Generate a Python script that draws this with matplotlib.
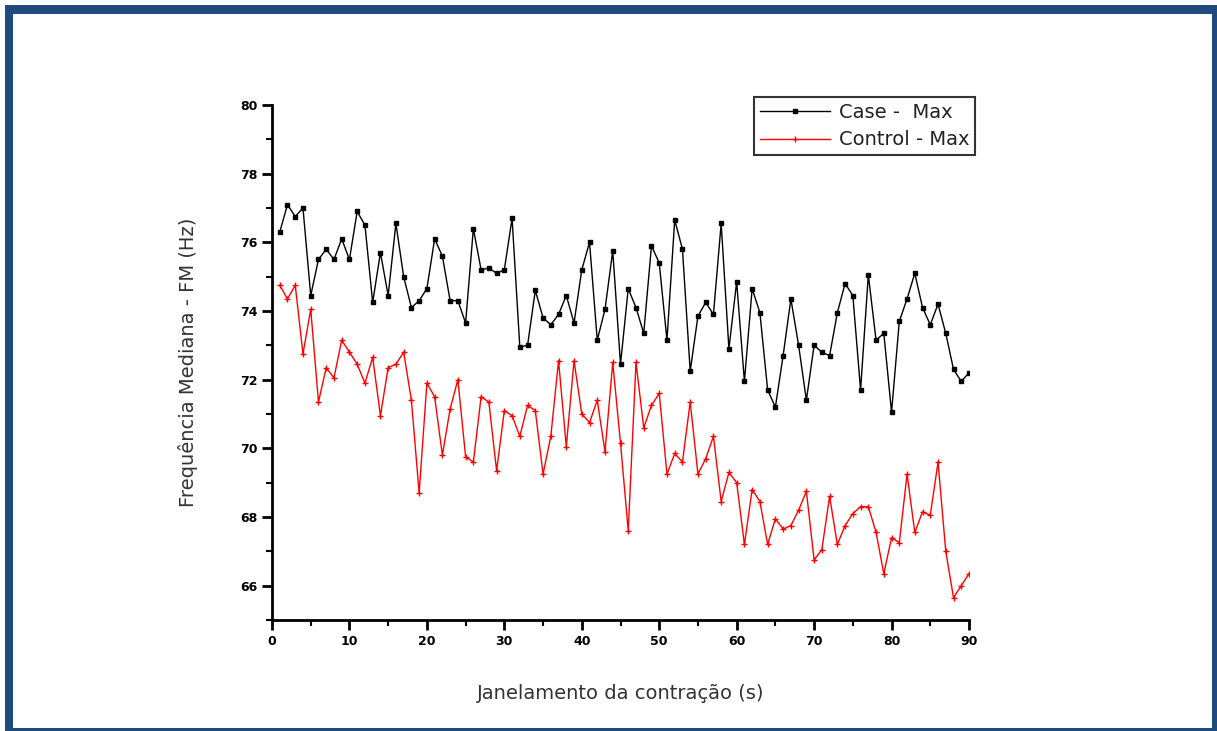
import numpy as np
import matplotlib
matplotlib.use("Agg")
import matplotlib.pyplot as plt
from matplotlib.patches import Rectangle
from matplotlib.ticker import MultipleLocator

# window index (s)
x = np.arange(1, 91)

case_max = [
    76.3, 77.1, 76.75, 77.0, 74.45, 75.5, 75.8, 75.5, 76.1, 75.5,
    76.9, 76.5, 74.25, 75.7, 74.45, 76.55, 75.0, 74.1, 74.3, 74.65,
    76.1, 75.6, 74.3, 74.3, 73.65, 76.4, 75.2, 75.25, 75.1, 75.2,
    76.7, 72.95, 73.0, 74.6, 73.8, 73.6, 73.9, 74.45, 73.65, 75.2,
    76.0, 73.15, 74.05, 75.75, 72.45, 74.65, 74.1, 73.35, 75.9, 75.4,
    73.15, 76.65, 75.8, 72.25, 73.85, 74.25, 73.9, 76.55, 72.9, 74.85,
    71.95, 74.65, 73.95, 71.7, 71.2, 72.7, 74.35, 73.0, 71.4, 73.0,
    72.8, 72.7, 73.95, 74.8, 74.45, 71.7, 75.05, 73.15, 73.35, 71.05,
    73.7, 74.35, 75.1, 74.1, 73.6, 74.2, 73.35, 72.3, 71.95, 72.2,
]

control_max = [
    74.75, 74.35, 74.75, 72.75, 74.05, 71.35, 72.35, 72.05, 73.15, 72.8,
    72.45, 71.9, 72.65, 70.95, 72.35, 72.45, 72.8, 71.4, 68.7, 71.9,
    71.5, 69.8, 71.15, 72.0, 69.75, 69.6, 71.5, 71.35, 69.35, 71.1,
    70.95, 70.35, 71.25, 71.1, 69.25, 70.35, 72.55, 70.05, 72.55, 71.0,
    70.75, 71.4, 69.9, 72.5, 70.15, 67.6, 72.5, 70.6, 71.25, 71.6,
    69.25, 69.85, 69.6, 71.35, 69.25, 69.7, 70.35, 68.45, 69.3, 69.0,
    67.2, 68.8, 68.45, 67.2, 67.95, 67.65, 67.75, 68.2, 68.75, 66.75,
    67.05, 68.6, 67.2, 67.75, 68.1, 68.3, 68.3, 67.55, 66.35, 67.4,
    67.25, 69.25, 67.55, 68.15, 68.05, 69.6, 67.0, 65.65, 66.0, 66.35,
]

BORDER = "#1f4a7e"

fig = plt.figure(figsize=(12.17, 7.31), dpi=100)
ax = fig.add_axes([272 / 1217, 1 - 620 / 731, 697 / 1217, 515 / 731])

ax.plot(x, case_max, color="black", lw=1.0, marker="s", ms=3.5,
        label="Case -  Max")
ax.plot(x, control_max, color="red", lw=1.0, marker="+", ms=5, mew=1.0,
        label="Control - Max")

ax.set_xlim(0, 90)
ax.set_ylim(65, 80)
ax.xaxis.set_major_locator(MultipleLocator(10))
ax.xaxis.set_minor_locator(MultipleLocator(5))
ax.yaxis.set_minor_locator(MultipleLocator(1))
ax.set_yticks(np.arange(66, 81, 2))
for s in ["top", "right"]:
    ax.spines[s].set_visible(False)
for s in ["left", "bottom"]:
    ax.spines[s].set_linewidth(2.0)
ax.tick_params(which="major", direction="out", length=7, width=2.0,
               labelsize=9)
ax.tick_params(which="minor", direction="out", length=4, width=1.5)
for lbl in ax.get_xticklabels() + ax.get_yticklabels():
    lbl.set_fontweight("bold")

ax.set_xlabel("Janelamento da contração (s)", fontsize=14, color="#333333",
              labelpad=26)
ax.set_ylabel("Frequência Mediana - FM (Hz)", fontsize=14, color="#333333",
              labelpad=30)

leg = ax.legend(loc="upper right", bbox_to_anchor=(1.009, 1.016),
                fontsize=14, frameon=True, fancybox=False,
                edgecolor="black", borderpad=0.3, handlelength=3.6,
                labelspacing=0.45, handletextpad=0.45, borderaxespad=0.0)
leg.get_frame().set_linewidth(1.5)
for t in leg.get_texts():
    t.set_color("#222222")

# blue frame around the figure (pixels)
W, H = 1217, 731
for (px, py, pw, ph) in [(5, 5, 8, 726), (5, 5, 1212, 9),
                         (1212, 5, 5, 726), (5, 728, 1212, 3)]:
    fig.add_artist(Rectangle((px / W, 1 - (py + ph) / H), pw / W, ph / H,
                             transform=fig.transFigure, color=BORDER, lw=0))

fig.savefig("out.png", dpi=100)
